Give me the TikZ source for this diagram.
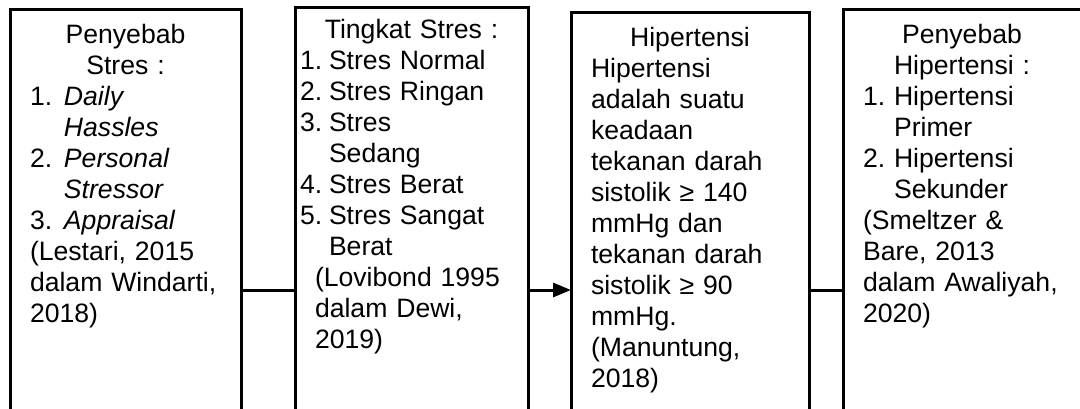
\documentclass[tikz,border=0pt]{standalone}
\usepackage{fontspec}
\setmainfont{Liberation Sans}
\usepackage{tikz}
\usetikzlibrary{arrows.meta, positioning, calc}

% list item: number in a fixed box, then the text
\newcommand{\butir}[3][17pt]{\makebox[#1][l]{#2}#3}
\newcommand{\lanjut}[2][17pt]{\hspace*{#1}#2}
\newcommand{\judul}[1]{\makebox[\linewidth]{#1}}

\tikzset{
  % framework boxes (run past the bottom of the page)
  kotak/.style={
    draw, line width=1.5pt, anchor=north west, align=left, outer sep=0pt,
    inner xsep=10pt, inner ysep=7pt, text height=10pt, text depth=200pt,
    font=\fontsize{13.3}{15.5}\selectfont,
  },
  % connectors
  penghubung/.style={line width=1.5pt},
  panah/.style={-{Triangle[length=9pt, width=7pt]}, line width=1.5pt},
}

\begin{document}
\begin{tikzpicture}[x=0.5pt, y=-0.5pt]

  \path[use as bounding box, fill=white] (0,0) rectangle (1080,408);

  % Boxes
  \node[kotak, text width=95.5pt] (stres) at (10,9) {
    \judul{Penyebab}\\
    \judul{Stres :}\\
    \butir{1.}{\textit{Daily}}\\
    \lanjut{\textit{Hassles}}\\
    \butir{2.}{\textit{Personal}}\\
    \lanjut{\textit{Stressor}}\\
    \butir{3.}{\textit{Appraisal}}\\
    (Lestari, 2015\\
    dalam Windarti,\\
    2018)
  };

  \node[kotak, text width=96.5pt, inner ysep=5.5pt,
        right=27pt of stres.north east, anchor=north west, yshift=1pt] (tingkat) {
    \judul{Tingkat Stres :}\\
    \hspace*{-7.5pt}\butir[14.5pt]{1.}{Stres Normal}\\
    \hspace*{-7.5pt}\butir[14.5pt]{2.}{Stres Ringan}\\
    \hspace*{-7.5pt}\butir[14.5pt]{3.}{Stres}\\
    \lanjut[7pt]{Sedang}\\
    \hspace*{-7.5pt}\butir[14.5pt]{4.}{Stres Berat}\\
    \hspace*{-7.5pt}\butir[14.5pt]{5.}{Stres Sangat}\\
    \lanjut[7pt]{Berat}\\
    (Lovibond 1995\\
    dalam Dewi,\\
    2019)
  };

  \node[kotak, text width=99pt,
        right=21.5pt of tingkat.north east, anchor=north west, yshift=-2.5pt] (hipertensi) {
    \judul{Hipertensi}\\
    Hipertensi\\
    adalah suatu\\
    keadaan\\
    tekanan darah\\
    sistolik ≥ 140\\
    mmHg dan\\
    tekanan darah\\
    sistolik ≥ 90\\
    mmHg.\\
    (Manuntung,\\
    2018)
  };

  \node[kotak, text width=99pt,
        right=17pt of hipertensi.north east, anchor=north west, yshift=1.5pt] (penyebab) {
    \judul{Penyebab}\\
    \judul{Hipertensi :}\\
    \butir[15.5pt]{1.}{Hipertensi}\\
    \lanjut[15.5pt]{Primer}\\
    \butir[15.5pt]{2.}{Hipertensi}\\
    \lanjut[15.5pt]{Sekunder}\\
    (Smeltzer \&\\
    Bare, 2013\\
    dalam Awaliyah,\\
    2020)
  };

  % Connectors
  \coordinate (garis) at (0,290);
  \draw[penghubung] (stres.east |- garis) -- (tingkat.west |- garis);
  \draw[panah] (tingkat.east |- garis) -- (hipertensi.west |- garis);
  \draw[penghubung] (hipertensi.east |- garis) -- (penyebab.west |- garis);

\end{tikzpicture}
\end{document}
